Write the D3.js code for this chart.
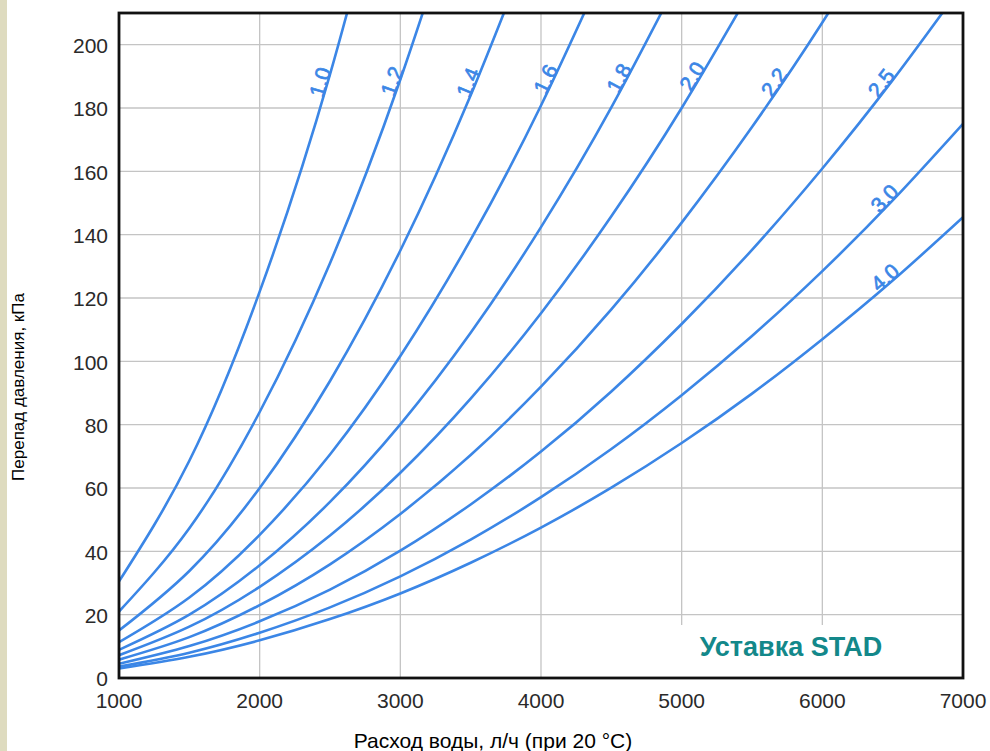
<!DOCTYPE html>
<html>
<head>
<meta charset="utf-8">
<script src="https://cdn.jsdelivr.net/npm/d3@7"></script>
<style>
  body { margin: 0; background: #fff; }
  text { font-family: "Liberation Sans", Arial, sans-serif; }
</style>
</head>
<body>
<script>
// расход, л/ч
const flow = [1000, 1500, 2000, 2500, 3000, 3500, 4000, 4500, 5000, 5500, 6000, 6500, 7000];
const xTicks = [1000, 2000, 3000, 4000, 5000, 6000, 7000];
const yTicks = [0, 20, 40, 60, 80, 100, 120, 140, 160, 180, 200];

// перепад давления, кПа, для каждой уставки
const settings = ["1.0", "1.2", "1.4", "1.6", "1.8", "2.0", "2.2", "2.5", "3.0", "4.0"];
const dp10 = [30.5, 68.6, 122, 190.6, 274.5];
const dp12 = [21, 47.3, 84, 131, 189, 257];
const dp14 = [15, 33.8, 60, 93.8, 135, 184, 240];
const dp16 = [11.3, 25.4, 45.2, 70.6, 101.7, 138.4, 180.8, 228.8];
const dp18 = [8.9, 20, 35.6, 55.6, 80.1, 109, 142.4, 180.2, 222.5];
const dp20 = [7.2, 16.2, 28.8, 45, 64.8, 88.2, 115.2, 145.8, 180, 217.8];
const dp22 = [5.8, 12.9, 23, 35.9, 51.8, 70.4, 92, 116.4, 143.8, 174, 207, 243];
const dp25 = [4.5, 10.1, 17.9, 27.9, 40.2, 54.8, 71.5, 90.5, 111.8, 135.2, 160.9, 188.8, 219];
const dp30 = [3.6, 8, 14.3, 22.3, 32.1, 43.7, 57.1, 72.3, 89.3, 108, 128.5, 150.8, 175];
const dp40 = [3, 6.7, 11.9, 18.6, 26.7, 36.4, 47.5, 60.1, 74.2, 89.8, 107, 125.5, 145.5];
// где стоит подпись на кривой (расход)
const labelFlow = [2480, 2990, 3530, 4080, 4600, 5120, 5700, 6460, 6480, 6480];

const allDp = [dp10, dp12, dp14, dp16, dp18, dp20, dp22, dp25, dp30, dp40];

const width = 990, height = 751;
const pLeft = 119, pRight = 963, pTop = 13, pBottom = 678;
const blue = "#3b86e6";

let svg = d3.select("body").append("svg")
    .attr("width", width)
    .attr("height", height);

svg.append("rect").attr("x", 0).attr("y", 0).attr("width", 7).attr("height", height)
    .attr("fill", "#dedbbf");

let x = d3.scaleLinear().domain([1000, 7000]).range([pLeft, pRight]);
let y = d3.scaleLinear().domain([0, 210]).range([pBottom, pTop]);

svg.append("clipPath").attr("id", "plot")
    .append("rect")
    .attr("x", pLeft).attr("y", pTop)
    .attr("width", pRight - pLeft).attr("height", pBottom - pTop);

// сетка
svg.append("g")
    .selectAll("line")
    .data(yTicks.slice(1))
    .enter()
    .append("line")
    .attr("x1", pLeft).attr("x2", pRight)
    .attr("y1", d => y(d)).attr("y2", d => y(d))
    .attr("stroke", "#c4c4c4")
    .attr("stroke-width", 1.3);

svg.append("g")
    .selectAll("line")
    .data(xTicks.slice(1, -1))
    .enter()
    .append("line")
    .attr("y1", pTop).attr("y2", pBottom)
    .attr("x1", d => x(d)).attr("x2", d => x(d))
    .attr("stroke", "#c4c4c4")
    .attr("stroke-width", 1.3);

// белая плашка под надписью
svg.append("rect")
    .attr("x", 565).attr("y", 625)
    .attr("width", pRight - 567).attr("height", pBottom - 626)
    .attr("fill", "#fff");

svg.append("text")
    .attr("x", 791).attr("y", 656)
    .attr("text-anchor", "middle")
    .style("font-size", "27px")
    .style("font-weight", "bold")
    .attr("fill", "#13888a")
    .text("Уставка STAD");

// кривые
let line = d3.line()
    .x(d => x(d[0]))
    .y(d => y(d[1]))
    .curve(d3.curveNatural);

let curves = svg.append("g").attr("clip-path", "url(#plot)");

allDp.forEach(function(vals, i) {
    let pts = vals.map((v, j) => [flow[j], v]);
    let path = curves.append("path")
        .datum(pts)
        .attr("d", line)
        .attr("fill", "none")
        .attr("stroke", blue)
        .attr("stroke-width", 2.6);

    // подпись вдоль кривой
    let node = path.node();
    let total = node.getTotalLength();
    let tx = x(labelFlow[i]);
    let lo = 0, hi = total;
    for (let k = 0; k < 40; k++) {
        let mid = (lo + hi) / 2;
        if (node.getPointAtLength(mid).x < tx) lo = mid; else hi = mid;
    }
    let p = node.getPointAtLength(lo);
    let p1 = node.getPointAtLength(Math.max(0, lo - 3));
    let p2 = node.getPointAtLength(Math.min(total, lo + 3));
    let ang = Math.atan2(p2.y - p1.y, p2.x - p1.x) * 180 / Math.PI;
    svg.append("text")
        .attr("transform", "translate(" + p.x + "," + p.y + ") rotate(" + ang + ")")
        .attr("y", 0)
        .attr("text-anchor", "middle")
        .style("font-size", "21px")
        .attr("fill", blue)
        .attr("stroke", blue)
        .attr("stroke-width", 0.7)
        .text(settings[i]);
});

// рамка
svg.append("rect")
    .attr("x", pLeft).attr("y", pTop)
    .attr("width", pRight - pLeft).attr("height", pBottom - pTop)
    .attr("fill", "none")
    .attr("stroke", "#111")
    .attr("stroke-width", 2.8);

// подписи делений
svg.append("g")
    .selectAll("text")
    .data(yTicks)
    .enter()
    .append("text")
    .attr("x", 108)
    .attr("y", d => y(d) + 1)
    .attr("dy", "0.35em")
    .attr("text-anchor", "end")
    .style("font-size", "21px")
    .attr("fill", "#2a2a2a")
    .text(d => d);

svg.append("g")
    .selectAll("text")
    .data(xTicks)
    .enter()
    .append("text")
    .attr("x", d => x(d))
    .attr("y", 708)
    .attr("text-anchor", "middle")
    .style("font-size", "21px")
    .attr("fill", "#2a2a2a")
    .text(d => d);

// названия осей
svg.append("text")
    .attr("x", 493).attr("y", 748)
    .attr("text-anchor", "middle")
    .style("font-size", "21px")
    .attr("fill", "#000")
    .text("Расход воды, л/ч (при 20 °C)");

svg.append("text")
    .attr("transform", "translate(24,387) rotate(-90)")
    .attr("text-anchor", "middle")
    .style("font-size", "17px")
    .attr("fill", "#000")
    .text("Перепад давления, кПа");
</script>
</body>
</html>
